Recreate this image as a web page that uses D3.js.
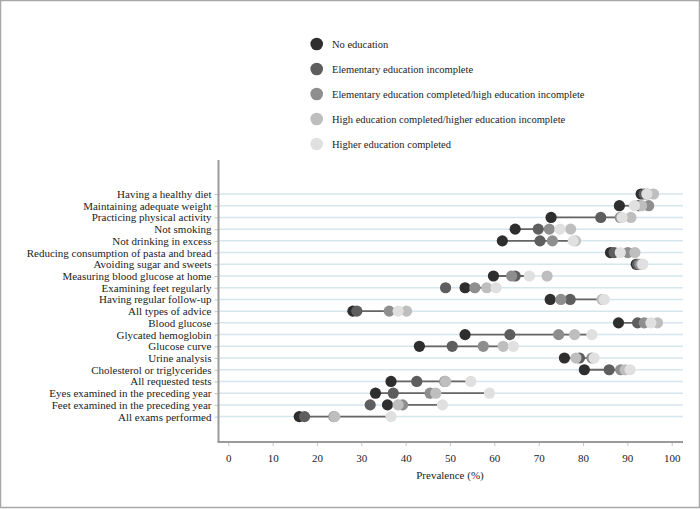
<!DOCTYPE html>
<html>
<head>
<meta charset="utf-8">
<script src="https://cdn.jsdelivr.net/npm/d3@7"></script>
<style>
  html, body { margin: 0; padding: 0; background: #fff; }
  svg { display: block; }
</style>
</head>
<body>
<div id="chart"></div>
<script>
// Prevalence of advice / exams by education level
const categories = [
  'Having a healthy diet', 'Maintaining adequate weight', 'Practicing physical activity',
  'Not smoking', 'Not drinking in excess', 'Reducing consumption of pasta and bread',
  'Avoiding sugar and sweets', 'Measuring blood glucose at home', 'Examining feet regularly',
  'Having regular follow-up', 'All types of advice', 'Blood glucose', 'Glycated hemoglobin',
  'Glucose curve', 'Urine analysis', 'Cholesterol or triglycerides', 'All requested tests',
  'Eyes examined in the preceding year', 'Feet examined in the preceding year', 'All exams performed'
];

const seriesNames = [
  'No education',
  'Elementary education incomplete',
  'Elementary education completed/high education incomplete',
  'High education completed/higher education incomplete',
  'Higher education completed'
];

const noEducation   = [93.1, 88.2, 72.8, 64.7, 61.8, 86.2, 92.0, 59.8, 53.4, 72.6, 28.1, 88.0, 53.4, 43.1, 75.8, 80.3, 36.7, 33.2, 35.9, 16.0];
const elemIncomplete = [93.8, 92.5, 84.0, 69.9, 70.3, 87.0, 92.3, 64.7, 49.0, 77.1, 29.0, 92.3, 63.5, 50.5, 79.2, 85.9, 42.5, 37.2, 32.0, 17.2];
const elemCompleted = [94.5, 94.8, 88.4, 72.4, 73.1, 90.1, 92.8, 63.9, 55.6, 75.0, 36.3, 93.8, 74.5, 57.5, 82.0, 88.5, 48.8, 45.5, 39.3, 23.8];
const highCompleted = [95.9, 93.2, 90.8, 77.2, 78.3, 91.7, 93.3, 71.9, 58.3, 84.3, 40.2, 96.8, 78.1, 62.0, 78.4, 89.5, 49.0, 46.8, 38.3, 24.0];
const higherCompleted = [94.4, 91.6, 88.8, 74.8, 77.8, 88.4, 93.5, 67.9, 60.4, 84.8, 38.3, 95.3, 82.0, 64.3, 82.5, 90.6, 54.7, 58.9, 48.3, 36.7];

const seriesValues = [noEducation, elemIncomplete, elemCompleted, highCompleted, higherCompleted];
const seriesColors = ['#2e2e2e', '#5e5e5e', '#8e8e8e', '#bebebe', '#e0e0e0'];
const xTicks = [0, 10, 20, 30, 40, 50, 60, 70, 80, 90, 100];

const width = 700;
const height = 509;
const font = '"Liberation Serif", "Times New Roman", serif';

const svg = d3.select('#chart')
  .append('svg')
  .attr('width', width)
  .attr('height', height);

// outer frame
svg.append('rect')
  .attr('x', 0.5).attr('y', 0.5)
  .attr('width', width - 1).attr('height', height - 2)
  .attr('fill', 'none')
  .attr('stroke', '#a8a8a8')
  .attr('stroke-width', 1.5);

const plot = { left: 218.5, right: 683, top: 160, bottom: 442 };

const x = d3.scaleLinear()
  .domain([0, 100])
  .range([228.3, 671.7]);

const y = d3.scalePoint()
  .domain(categories)
  .range([194, 416.6]);

// gridlines
svg.append('g')
  .selectAll('line')
  .data(categories)
  .join('line')
  .attr('x1', plot.left).attr('x2', plot.right)
  .attr('y1', d => y(d)).attr('y2', d => y(d))
  .attr('stroke', '#d6e6ee')
  .attr('stroke-width', 1.5);

// y axis
const yAxis = svg.append('g')
  .attr('transform', `translate(${plot.left},0)`)
  .call(d3.axisLeft(y).tickSize(4).tickPadding(3));
yAxis.select('.domain').remove();
yAxis.selectAll('.tick line').attr('stroke', '#c4c4c4');
yAxis.selectAll('.tick text')
  .attr('font-family', font)
  .attr('font-size', '11px')
  .attr('fill', '#222');

svg.append('line')
  .attr('x1', plot.left).attr('x2', plot.left)
  .attr('y1', plot.top).attr('y2', plot.bottom)
  .attr('stroke', '#9a9a9a')
  .attr('stroke-width', 2);

// x axis
const xAxis = svg.append('g')
  .attr('transform', `translate(0,${plot.bottom})`)
  .call(d3.axisBottom(x).tickValues(xTicks).tickSize(4).tickPadding(8));
xAxis.select('.domain').remove();
xAxis.selectAll('.tick line').attr('stroke', '#c4c4c4');
xAxis.selectAll('.tick text')
  .attr('font-family', font)
  .attr('font-size', '11px')
  .attr('fill', '#222');

svg.append('line')
  .attr('x1', plot.left - 1).attr('x2', plot.right)
  .attr('y1', plot.bottom).attr('y2', plot.bottom)
  .attr('stroke', '#9a9a9a')
  .attr('stroke-width', 2);

svg.append('text')
  .attr('x', x(50)).attr('y', 479)
  .attr('text-anchor', 'middle')
  .attr('font-family', font)
  .attr('font-size', '11px')
  .attr('fill', '#222')
  .text('Prevalence (%)');

// connector: no education -> higher education completed
svg.append('g')
  .selectAll('line')
  .data(categories)
  .join('line')
  .attr('x1', (d, i) => x(noEducation[i]))
  .attr('x2', (d, i) => x(higherCompleted[i]))
  .attr('y1', d => y(d)).attr('y2', d => y(d))
  .attr('stroke', '#666')
  .attr('stroke-width', 1.8);

// dots, later series on top
seriesValues.forEach((vals, s) => {
  svg.append('g')
    .selectAll('circle')
    .data(categories)
    .join('circle')
    .attr('cx', (d, i) => x(vals[i]))
    .attr('cy', d => y(d))
    .attr('r', 5.6)
    .attr('fill', seriesColors[s]);
});

// legend
const legend = svg.append('g');
seriesNames.forEach((name, i) => {
  const ly = 44 + i * 25;
  legend.append('circle')
    .attr('cx', 316.7).attr('cy', ly)
    .attr('r', 6.3)
    .attr('fill', seriesColors[i]);
  legend.append('text')
    .attr('x', 332).attr('y', ly + 3.6)
    .attr('font-family', font)
    .attr('font-size', '10.5px')
    .attr('fill', '#222')
    .text(name);
});
</script>
</body>
</html>
